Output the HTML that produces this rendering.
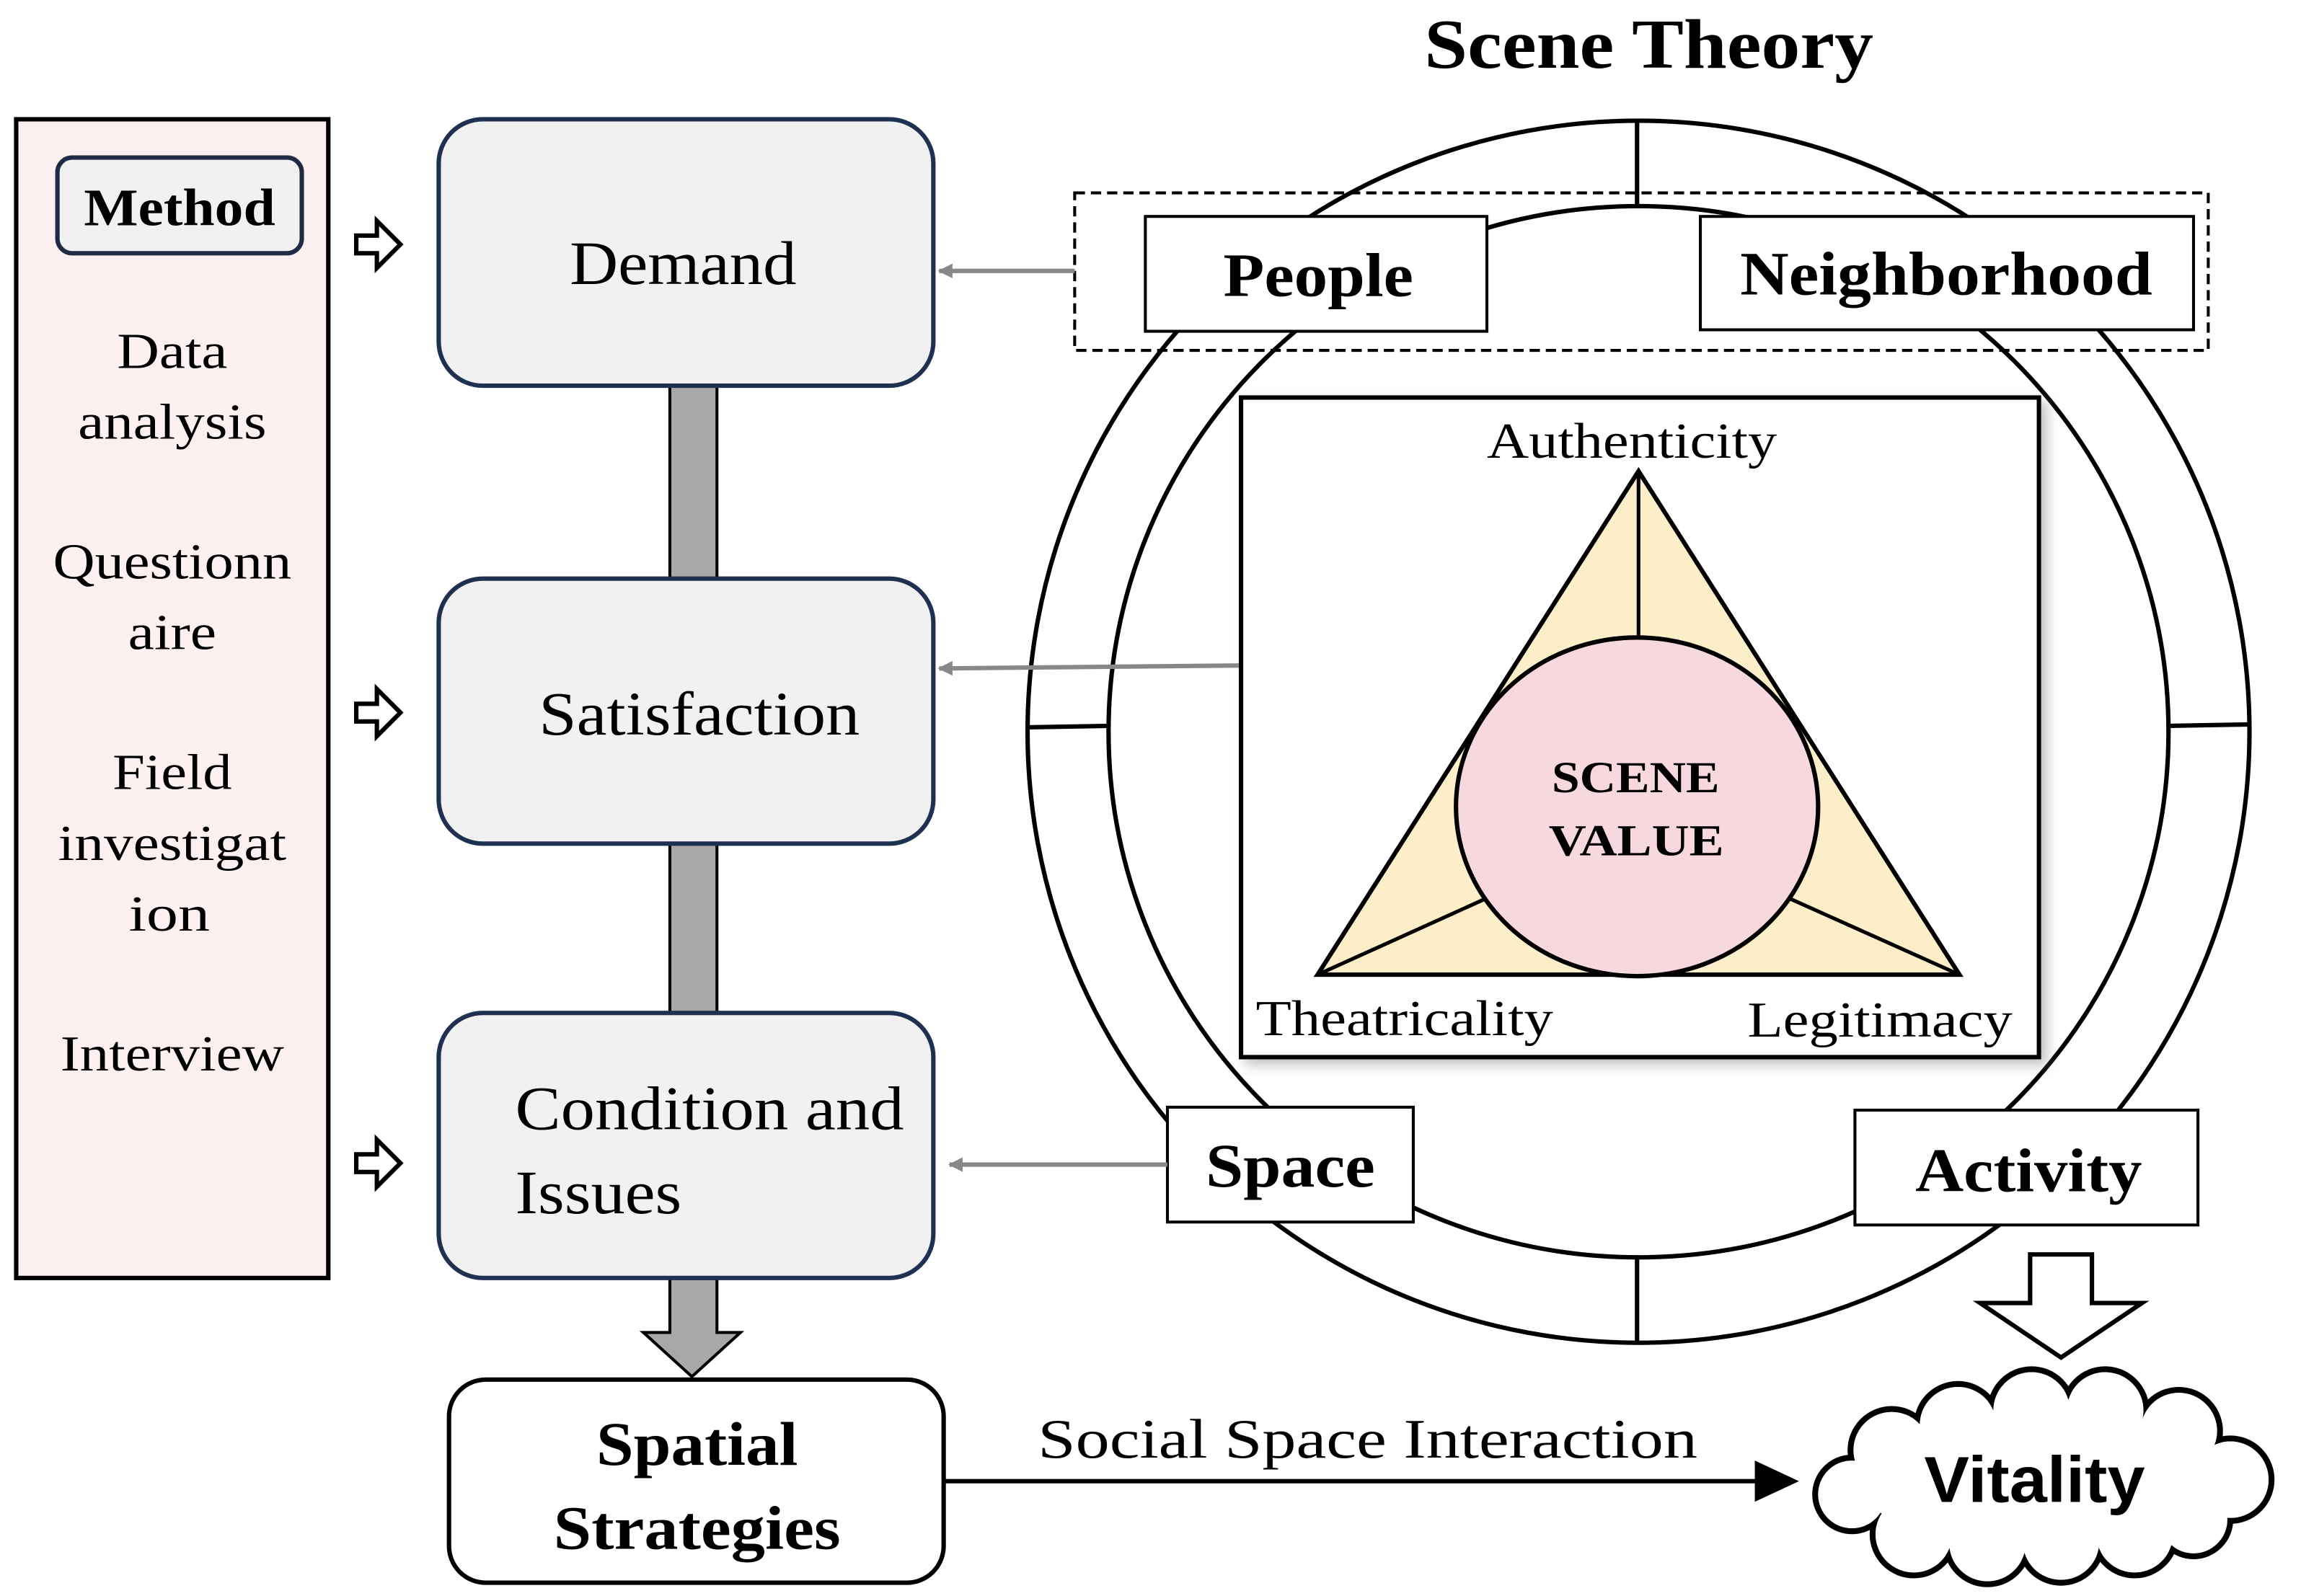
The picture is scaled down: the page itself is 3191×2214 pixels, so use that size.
<!DOCTYPE html>
<html><head><meta charset="utf-8"><style>
html,body{margin:0;padding:0;background:#fff;}
svg{display:block;}
text{font-family:"Liberation Serif",serif;fill:#000;}
</style></head><body>
<svg width="3191" height="2214" viewBox="0 0 1563 1084" preserveAspectRatio="none" xmlns="http://www.w3.org/2000/svg">
<defs>
<marker id="ga" markerWidth="10" markerHeight="10" refX="9" refY="5" orient="auto" markerUnits="userSpaceOnUse"><path d="M0,0 L10,5 L0,10 Z" fill="#888"/></marker>
<filter id="sh" x="-10%" y="-10%" width="130%" height="130%"><feDropShadow dx="4" dy="4" stdDeviation="4" flood-color="#999" flood-opacity="0.6"/></filter>
</defs>
<rect width="1563" height="1084" fill="#fff"/>
<text x="1120" y="46" font-size="48" font-weight="bold" text-anchor="middle" textLength="305" lengthAdjust="spacingAndGlyphs">Scene Theory</text>

<rect x="11" y="81" width="212" height="787" fill="#fdf0f0" stroke="#000" stroke-width="3"/>
<rect x="39" y="107" width="166" height="65" rx="10" fill="#f1f1f1" stroke="#1f2a44" stroke-width="3"/>
<text x="122" y="153" font-size="36" font-weight="bold" text-anchor="middle" textLength="130" lengthAdjust="spacingAndGlyphs">Method</text>
<g font-size="34" text-anchor="middle">
<text x="117" y="250" textLength="75" lengthAdjust="spacingAndGlyphs">Data</text>
<text x="117" y="298" textLength="128" lengthAdjust="spacingAndGlyphs">analysis</text>
<text x="117" y="393" textLength="162" lengthAdjust="spacingAndGlyphs">Questionn</text>
<text x="117" y="441" textLength="60" lengthAdjust="spacingAndGlyphs">aire</text>
<text x="117" y="536" textLength="81" lengthAdjust="spacingAndGlyphs">Field</text>
<text x="117" y="584" textLength="155" lengthAdjust="spacingAndGlyphs">investigat</text>
<text x="115" y="632" textLength="55" lengthAdjust="spacingAndGlyphs">ion</text>
<text x="117" y="727" textLength="152" lengthAdjust="spacingAndGlyphs">Interview</text>
</g>
<g fill="#fff" stroke="#000" stroke-width="3" stroke-linejoin="miter">
<path d="M242,160 h14 v-10 l16,16 l-16,16 v-10 h-14 z"/>
<path d="M242,478 h14 v-10 l16,16 l-16,16 v-10 h-14 z"/>
<path d="M242,784 h14 v-10 l16,16 l-16,16 v-10 h-14 z"/>
</g>
<g fill="#aaa7a7" stroke="#000" stroke-width="2">
<rect x="455" y="262" width="32" height="131"/>
<rect x="455" y="573" width="32" height="115"/>
<path d="M455,868 h32 v37 h16 l-33,30 l-33,-30 h18 z"/>
</g>
<g fill="#f1f1f1" stroke="#1f3050" stroke-width="3">
<rect x="298" y="81" width="336" height="181" rx="30"/>
<rect x="298" y="393" width="336" height="180" rx="30"/>
<rect x="298" y="688" width="336" height="180" rx="30"/>
</g>
<g font-size="42">
<text x="387" y="193" textLength="154" lengthAdjust="spacingAndGlyphs">Demand</text>
<text x="366" y="499" textLength="218" lengthAdjust="spacingAndGlyphs">Satisfaction</text>
<text x="350" y="767" textLength="264" lengthAdjust="spacingAndGlyphs">Condition and</text>
<text x="350" y="824" textLength="113" lengthAdjust="spacingAndGlyphs">Issues</text>
</g>
<rect x="305" y="937" width="336" height="138" rx="25" fill="#fff" stroke="#000" stroke-width="3"/>
<g font-size="42" font-weight="bold">
<text x="405" y="995" textLength="137" lengthAdjust="spacingAndGlyphs">Spatial</text>
<text x="376" y="1052" textLength="195" lengthAdjust="spacingAndGlyphs">Strategies</text>
</g>
<line x1="641" y1="1006" x2="1195" y2="1006" stroke="#000" stroke-width="3"/>
<path d="M1192,992 L1222,1006 L1192,1020 Z" fill="#000"/>
<text x="705" y="990" font-size="38" textLength="448" lengthAdjust="spacingAndGlyphs">Social Space Interaction</text>

<g fill="none" stroke="#000" stroke-width="3">
<ellipse cx="1113" cy="497" rx="415" ry="415"/>
<ellipse cx="1113" cy="497" rx="360" ry="357"/>
<line x1="1112" y1="82" x2="1112" y2="140"/>
<line x1="1112" y1="855" x2="1112" y2="912"/>
<line x1="698" y1="494" x2="753" y2="493"/>
<line x1="1473" y1="493" x2="1528" y2="492"/>
</g>
<rect x="730" y="131" width="770" height="107" fill="none" stroke="#000" stroke-width="2" stroke-dasharray="7,4"/>
<g fill="#fff" stroke="#000" stroke-width="2">
<rect x="778" y="147" width="232" height="78"/>
<rect x="1155" y="147" width="335" height="77"/>
<rect x="793" y="752" width="167" height="78"/>
<rect x="1260" y="754" width="233" height="78"/>
</g>
<g font-size="42" font-weight="bold">
<text x="831" y="201" textLength="129" lengthAdjust="spacingAndGlyphs">People</text>
<text x="1182" y="200" textLength="280" lengthAdjust="spacingAndGlyphs">Neighborhood</text>
<text x="819" y="806" textLength="115" lengthAdjust="spacingAndGlyphs">Space</text>
<text x="1301" y="809" textLength="154" lengthAdjust="spacingAndGlyphs">Activity</text>
</g>
<g stroke="#888" stroke-width="3" marker-end="url(#ga)">
<line x1="730" y1="184" x2="638" y2="184"/>
<line x1="843" y1="452" x2="638" y2="454"/>
<line x1="793" y1="791" x2="645" y2="791"/>
</g>

<rect x="843" y="270" width="542" height="448" fill="#fff" stroke="#000" stroke-width="3" filter="url(#sh)"/>
<path d="M1113,320 L1331,662 L895,662 Z" fill="#fbeec8" stroke="#000" stroke-width="3" stroke-linejoin="miter"/>
<g stroke="#000" stroke-width="2.5">
<line x1="1113" y1="320" x2="1113" y2="435"/>
<line x1="895" y1="662" x2="1010" y2="610"/>
<line x1="1331" y1="662" x2="1215" y2="610"/>
</g>
<ellipse cx="1112" cy="548" rx="123" ry="115" fill="#f6d8de" stroke="#000" stroke-width="3"/>
<g font-size="30" font-weight="bold">
<text x="1054" y="538" textLength="114" lengthAdjust="spacingAndGlyphs">SCENE</text>
<text x="1052" y="581" textLength="119" lengthAdjust="spacingAndGlyphs">VALUE</text>
</g>
<g font-size="34">
<text x="1010" y="311" textLength="197" lengthAdjust="spacingAndGlyphs">Authenticity</text>
<text x="853" y="703" textLength="202" lengthAdjust="spacingAndGlyphs">Theatricality</text>
<text x="1187" y="704" textLength="180" lengthAdjust="spacingAndGlyphs">Legitimacy</text>
</g>

<path d="M1379,852 h42 v33 h34 l-55,37 l-55,-37 h34 z" fill="#fff" stroke="#000" stroke-width="3"/>

<!-- cloud -->
<g stroke="#000" stroke-width="4" fill="none">
<circle cx="1258" cy="1015" r="25"/><circle cx="1285" cy="985" r="28"/><circle cx="1330" cy="968" r="28"/>
<circle cx="1380" cy="958" r="28"/><circle cx="1430" cy="958" r="28"/><circle cx="1480" cy="972" r="28"/>
<circle cx="1515" cy="1005" r="28"/><circle cx="1490" cy="1032" r="25"/><circle cx="1450" cy="1042" r="28"/>
<circle cx="1400" cy="1047" r="28"/><circle cx="1350" cy="1048" r="28"/><circle cx="1300" cy="1042" r="28"/>
</g>
<g fill="#fff">
<circle cx="1258" cy="1015" r="23"/><circle cx="1285" cy="985" r="26"/><circle cx="1330" cy="968" r="26"/>
<circle cx="1380" cy="958" r="26"/><circle cx="1430" cy="958" r="26"/><circle cx="1480" cy="972" r="26"/>
<circle cx="1515" cy="1005" r="26"/><circle cx="1490" cy="1032" r="23"/><circle cx="1450" cy="1042" r="26"/>
<circle cx="1400" cy="1047" r="26"/><circle cx="1350" cy="1048" r="26"/><circle cx="1300" cy="1042" r="26"/>
<polygon points="1258,1015 1285,985 1330,968 1380,958 1430,958 1480,972 1515,1005 1490,1032 1450,1042 1400,1047 1350,1048 1300,1042"/>
</g>
<text x="1307" y="1020" font-size="44" font-weight="bold" textLength="150" lengthAdjust="spacingAndGlyphs" style="font-family:'Liberation Sans',sans-serif">Vitality</text>
</svg>
</body></html>
